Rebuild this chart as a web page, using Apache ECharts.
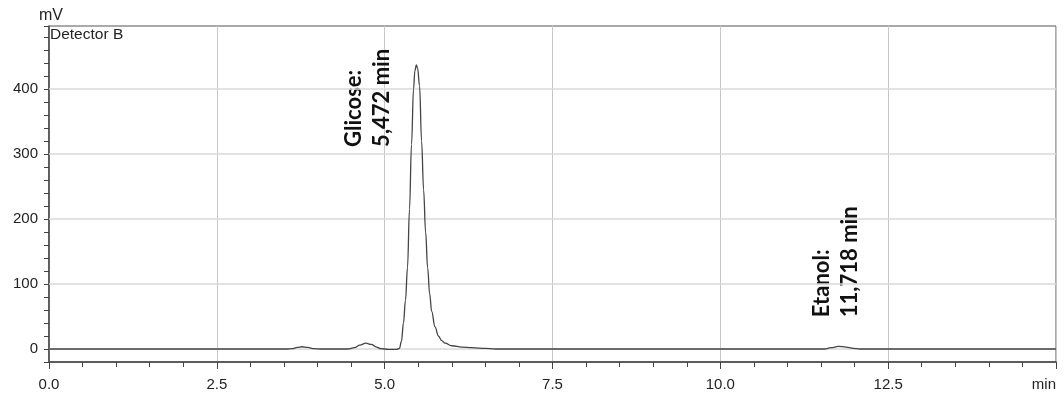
<!DOCTYPE html>
<html>
<head>
<meta charset="utf-8">
<script src="https://cdn.jsdelivr.net/npm/echarts@6/dist/echarts.min.js"></script>
<style>
  html, body { margin: 0; padding: 0; background: #fff; }
  #main { width: 1064px; height: 394px; }
</style>
</head>
<body>
<div id="main"></div>
<script>
// retention time (min) and detector signal (mV)
const times = [0, 3.55, 3.62, 3.70, 3.77, 3.85, 3.95, 4.05, 4.45, 4.55, 4.63, 4.72, 4.80, 4.88, 4.94, 5.05, 5.18,
  5.22, 5.25, 5.28, 5.31, 5.34, 5.37, 5.40, 5.43, 5.45, 5.472, 5.49, 5.52, 5.55, 5.58, 5.61, 5.64, 5.67, 5.70,
  5.75, 5.80, 5.85, 5.90, 6.00, 6.15, 6.30, 6.50, 6.65, 7.5, 11.55, 11.65, 11.76, 11.87, 11.98, 12.08, 15];
const signal = [0, 0, 0.5, 2.5, 3.5, 2.5, 0.5, 0, 0, 2, 6, 9, 7, 3, 0.5, -0.5, -0.5,
  1, 12, 40, 75, 125, 215, 315, 400, 428, 437, 432, 405, 320, 245, 180, 125, 85, 58,
  34, 20, 13, 9, 5, 3, 2, 1, 0, 0, 0, 2, 4, 3, 1, 0, 0];

const yLabels = [0, 100, 200, 300, 400];
const peakLabels = ['Glicose:\n5,472 min', 'Etanol:\n11,718 min'];
const peakAnchors = [[4.75, 311], [11.718, 49]];

const chart = echarts.init(document.getElementById('main'), null, { renderer: 'canvas' });
const font = "'Liberation Sans', Arial, sans-serif";

chart.setOption({
  animation: false,
  grid: {
    left: 49, right: 8, top: 26, bottom: 32,
    show: true, borderColor: '#555', borderWidth: 1
  },
  xAxis: {
    type: 'value',
    min: 0, max: 15, interval: 2.5,
    axisLine: { show: true, onZero: false, lineStyle: { color: '#444', width: 1.5 } },
    axisTick: { show: true, length: 7, lineStyle: { color: '#444' } },
    minorTick: { show: true, splitNumber: 5, length: 5, lineStyle: { color: '#444' } },
    axisLabel: {
      color: '#222', fontSize: 15, fontFamily: font, margin: 15,
      alignMaxLabel: 'right',
      formatter: v => v === 15 ? 'min' : v.toFixed(1)
    },
    splitLine: { show: true, lineStyle: { color: '#c8c8c8', width: 1 } }
  },
  yAxis: {
    type: 'value',
    min: -20, max: 497, interval: 20,
    name: 'mV', nameLocation: 'end', nameGap: 2,
    nameTextStyle: { color: '#222', fontSize: 16, fontFamily: font, align: 'center', padding: [0, 0, 0, 4] },
    axisLine: { show: true, onZero: false, lineStyle: { color: '#444', width: 1.5 } },
    axisTick: { show: true, length: 5, lineStyle: { color: '#444' } },
    axisLabel: {
      color: '#222', fontSize: 15, fontFamily: font, margin: 11,
      formatter: v => yLabels.includes(v) ? String(v) : ''
    },
    splitLine: { show: false }
  },
  series: [{
    type: 'line',
    data: times.map((t, i) => [t, signal[i]]),
    showSymbol: false,
    smooth: 0.4,
    smoothMonotone: 'x',
    lineStyle: { color: '#444', width: 1.3 },
    markLine: {
      silent: true,
      symbol: 'none',
      label: { show: false },
      lineStyle: { color: '#d8d8d8', width: 1.5, type: 'solid' },
      data: yLabels.map(v => ({ yAxis: v })),
      z: 1
    }
  }]
});

const graphics = [{
  type: 'text', left: 50, top: 27,
  style: { text: 'Detector B', font: '15.5px ' + font, fill: '#222' }
}];
peakLabels.forEach((txt, i) => {
  const p = chart.convertToPixel({ gridIndex: 0 }, peakAnchors[i]);
  graphics.push({
    type: 'text', x: p[0], y: p[1], rotation: Math.PI / 2,
    style: {
      text: txt, font: "bold 22px Lato, 'Open Sans', sans-serif", lineHeight: 28,
      fill: '#111', align: 'left', verticalAlign: 'middle'
    }
  });
});
chart.setOption({ graphic: graphics });
</script>
</body>
</html>
